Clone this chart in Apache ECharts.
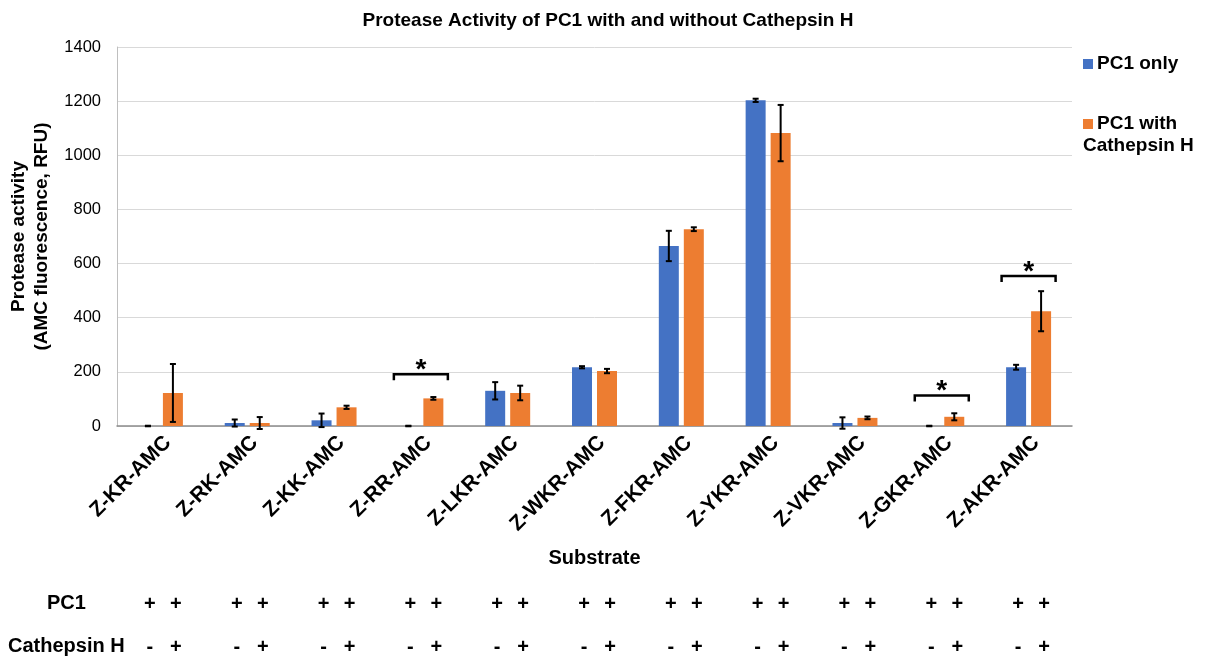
<!DOCTYPE html>
<html><head><meta charset="utf-8">
<script src="https://cdn.jsdelivr.net/npm/echarts@6/dist/echarts.min.js"></script>
<style>html,body{margin:0;padding:0;background:#fff}#c{width:1207px;height:659px}</style>
</head><body><div id="c"></div>
<script>
const categories = ['Z-KR-AMC','Z-RK-AMC','Z-KK-AMC','Z-RR-AMC','Z-LKR-AMC','Z-WKR-AMC','Z-FKR-AMC','Z-YKR-AMC','Z-VKR-AMC','Z-GKR-AMC','Z-AKR-AMC'];
const pc1Only = [0, 11, 21, 0, 130, 217, 665, 1203, 11, 0, 217];
const pc1OnlyErr = [1, 13, 25, 1, 32, 4, 56, 6, 21, 1, 9];
const pc1Cath = [122, 11, 69, 102, 122, 203, 727, 1082, 30, 34, 424];
const pc1CathErr = [107, 22, 6, 5, 27, 8, 7, 104, 5, 13, 74];
const sigIndex = [3, 9, 10];
const sigLevel = [191, 113, 554];
const pc1Signs = ['+','+','+','+','+','+','+','+','+','+','+'];
const cathSignsOnly = ['-','-','-','-','-','-','-','-','-','-','-'];
const cathSignsWith = ['+','+','+','+','+','+','+','+','+','+','+'];
const yTicks = [0,200,400,600,800,1000,1200,1400];
const seriesNames = ['PC1 only', 'PC1 with Cathepsin H'];

const FONT = 'Liberation Sans, Arial, sans-serif';
const BLUE = '#4472C4', ORANGE = '#ED7D31';
const OFF = 12.5;

function errItem(offset){
  return function(params, api){
    const i = api.value(0), v = api.value(1), e = api.value(2);
    const top = api.coord([i, v + e]);
    const bot = api.coord([i, v - e]);
    const x = top[0] + offset;
    const cap = 3;
    const st = {stroke:'#000', lineWidth:2};
    return {type:'group', children:[
      {type:'line', shape:{x1:x,y1:top[1],x2:x,y2:bot[1]}, style:st},
      {type:'line', shape:{x1:x-cap,y1:top[1],x2:x+cap,y2:top[1]}, style:st},
      {type:'line', shape:{x1:x-cap,y1:bot[1],x2:x+cap,y2:bot[1]}, style:st}
    ]};
  };
}

const chart = echarts.init(document.getElementById('c'));
const LF = 'bold 19px '+FONT;
const option = {
  animation:false,
  textStyle:{fontFamily:FONT},
  title:{text:'Protease Activity of PC1 with and without Cathepsin H', left:603, textAlign:'center', top:6,
    textStyle:{fontSize:19, fontWeight:'bold', color:'#000', fontFamily:FONT}},
  legend:{orient:'vertical', left:1078, top:54, itemGap:50, itemWidth:10, itemHeight:10, icon:'rect',
    formatter:()=>'', data:seriesNames},
  grid:{left:117, right:135, top:47, bottom:233, containLabel:false, outerBoundsMode:'none'},
  xAxis:{type:'category', data:categories,
    axisLine:{lineStyle:{color:'#8c8c8c', width:1.5}}, axisTick:{show:false},
    axisLabel:{rotate:45, interval:0, fontSize:21, fontWeight:'bold', color:'#000', margin:6,
      verticalAlign:'top', fontFamily:FONT},
    name:'Substrate', nameLocation:'middle', nameGap:122,
    nameTextStyle:{fontSize:20, fontWeight:'bold', color:'#000', fontFamily:FONT}},
  yAxis:{type:'value', min:0, max:1400, interval:200,
    axisLine:{show:true, lineStyle:{color:'#bfbfbf'}}, axisTick:{show:false},
    splitLine:{lineStyle:{color:'#d9d9d9'}},
    axisLabel:{fontSize:16.5, color:'#000', margin:16, fontFamily:FONT, formatter:(v)=>String(v)},
    name:'Protease activity\n(AMC fluorescence, RFU)', nameLocation:'middle', nameGap:59, nameRotate:90,
    nameTextStyle:{fontSize:19, fontWeight:'bold', color:'#000', fontFamily:FONT, lineHeight:23}},
  series:[
    {name:seriesNames[0], type:'bar', data:pc1Only, barWidth:20, barGap:'25%', itemStyle:{color:BLUE}},
    {name:seriesNames[1], type:'bar', data:pc1Cath, barWidth:20, itemStyle:{color:ORANGE}},
    {type:'custom', renderItem:errItem(-OFF), clip:false, silent:true, z:5,
      data:pc1Only.map((v,i)=>[i,v,pc1OnlyErr[i]])},
    {type:'custom', renderItem:errItem(OFF), clip:false, silent:true, z:5,
      data:pc1Cath.map((v,i)=>[i,v,pc1CathErr[i]])},
    {type:'custom', clip:false, silent:true, z:6,
      data:sigIndex.map((c,k)=>[c, sigLevel[k]]),
      renderItem:function(params, api){
        const p = api.coord([api.value(0), api.value(1)]);
        const x1 = p[0]-27, x2 = p[0]+27, y = p[1], d = 6;
        const st = {stroke:'#000', lineWidth:2.5, fill:null};
        return {type:'group', children:[
          {type:'polyline', shape:{points:[[x1,y+d],[x1,y],[x2,y],[x2,y+d]]}, style:st},
          {type:'text', style:{text:'*', x:p[0], y:y-4, align:'center', verticalAlign:'middle',
            font:'bold 28px '+FONT, fill:'#000'}}
        ]};
      }},
    {type:'custom', clip:false, silent:true, z:6,
      data:categories.map((c,i)=>[i,0]),
      renderItem:function(params, api){
        const i = params.dataIndex;
        const p = api.coord([api.value(0), 0]);
        const f = 'bold 20px '+FONT;
        const mk = (t,x,y)=>({type:'text', style:{text:t, x:x, y:y, align:'center', verticalAlign:'middle', font:f, fill:'#000'}});
        return {type:'group', children:[
          mk(pc1Signs[i], p[0]-OFF+2, 604),
          mk(pc1Signs[i], p[0]+OFF+3, 604),
          mk(cathSignsOnly[i], p[0]-OFF+2, 647),
          mk(cathSignsWith[i], p[0]+OFF+3, 647)
        ]};
      }}
  ],
  graphic:[
    {type:'text', x:1097, y:64, style:{text:'PC1 only', font:LF, fill:'#000', verticalAlign:'middle'}},
    {type:'text', x:1097, y:124, style:{text:'PC1 with', font:LF, fill:'#000', verticalAlign:'middle'}},
    {type:'text', x:1083, y:146, style:{text:'Cathepsin H', font:LF, fill:'#000', verticalAlign:'middle'}},
    {type:'text', left:47, top:593, style:{text:'PC1', font:'bold 20px '+FONT, fill:'#000'}},
    {type:'text', left:8, top:636, style:{text:'Cathepsin H', font:'bold 20px '+FONT, fill:'#000'}}
  ]
};
chart.setOption(option);
</script>
</body></html>
